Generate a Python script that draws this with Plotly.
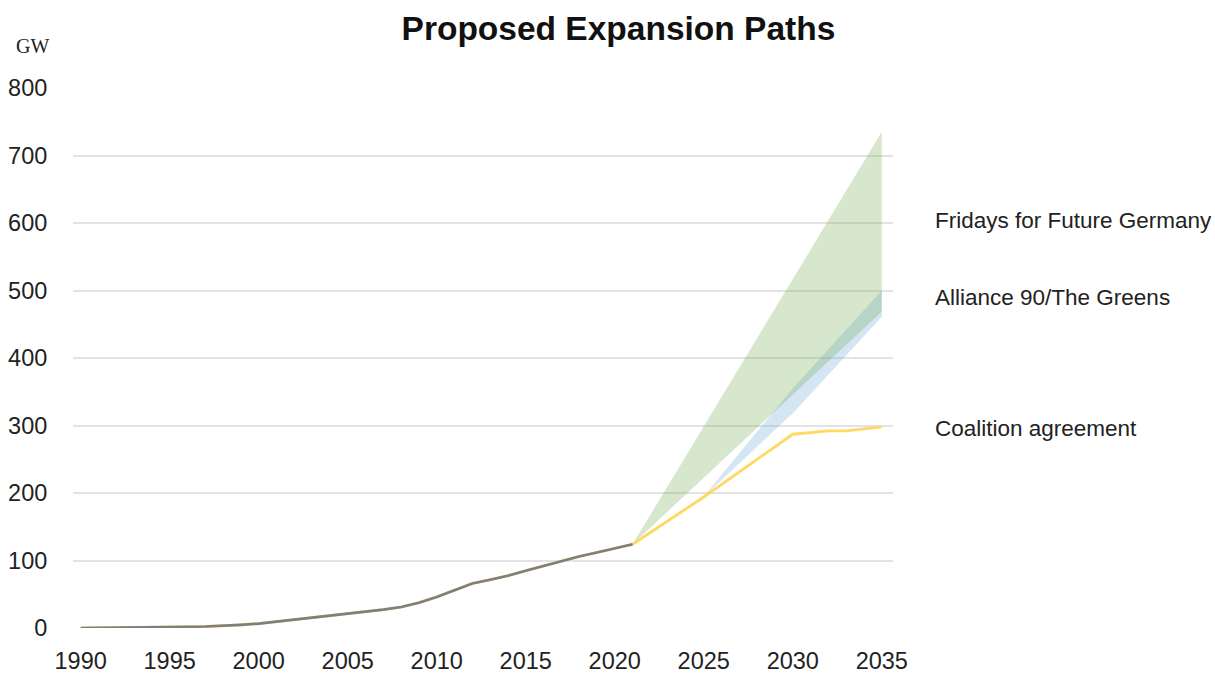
import plotly.graph_objects as go

# Installed wind + solar capacity in Germany (GW), historical
hist_years = list(range(1990, 2022))
hist_gw = [0.1, 0.2, 0.3, 0.5, 0.7, 1.2, 1.7, 2.2, 3.0, 4.7,
           6.5, 9.3, 12.8, 15.6, 18.6, 21.3, 24.2, 27.2, 31.0, 37.5,
           46.0, 56.0, 66.0, 71.5, 77.5, 85.0, 92.0, 99.5, 106.0, 112.0,
           118.0, 124.0]

# Coalition agreement path
coal_years = [2021, 2025, 2027, 2030, 2032, 2033, 2035]
coal_gw = [124, 194, 231, 287, 292, 292, 298]

# Alliance 90/The Greens corridor
greens_years = [2025, 2030, 2035]
greens_low = [195, 318, 461]
greens_high = [195, 355, 500]

# Fridays for Future Germany corridor
fff_years = [2021, 2035]
fff_low = [124, 469]
fff_high = [124, 735]

x_ticks = list(range(1990, 2036, 5))
y_ticks = list(range(0, 801, 100))

series_labels = ["Fridays for Future Germany", "Alliance 90/The Greens", "Coalition agreement"]
label_y = [603, 489, 296]

FONT = "Liberation Sans, Arial, sans-serif"
GREEN_FILL = "rgba(106,168,79,0.28)"
BLUE_FILL = "rgba(111,168,220,0.30)"
YELLOW = "#ffd966"
GREY = "#7f7f7f"

fig = go.Figure()

# Greens corridor
fig.add_trace(go.Scatter(x=greens_years, y=greens_low, mode="lines",
                         line=dict(width=0, color=BLUE_FILL), hoverinfo="skip"))
fig.add_trace(go.Scatter(x=greens_years, y=greens_high, mode="lines",
                         line=dict(width=0, color=BLUE_FILL), fill="tonexty",
                         fillcolor=BLUE_FILL, hoverinfo="skip"))

# Fridays for Future corridor
fig.add_trace(go.Scatter(x=fff_years, y=fff_low, mode="lines",
                         line=dict(width=0, color=GREEN_FILL), hoverinfo="skip"))
fig.add_trace(go.Scatter(x=fff_years, y=fff_high, mode="lines",
                         line=dict(width=0, color=GREEN_FILL), fill="tonexty",
                         fillcolor=GREEN_FILL, hoverinfo="skip"))

# Coalition agreement (continues the historical series)
fig.add_trace(go.Scatter(x=hist_years + coal_years[1:], y=hist_gw + coal_gw[1:],
                         mode="lines", line=dict(width=2.9, color=YELLOW)))

# Historical capacity
fig.add_trace(go.Scatter(x=hist_years, y=hist_gw, mode="lines",
                         line=dict(width=2.6, color=GREY)))

annotations = [
    dict(text=t, x=1.0488, y=yv, xref="paper", yref="y", xanchor="left",
         yanchor="middle", showarrow=False,
         font=dict(family=FONT, size=22.5, color="#222222"))
    for t, yv in zip(series_labels, label_y)
]
annotations.append(dict(text="GW", x=-0.0488, y=1.078, xref="paper", yref="paper",
                        xanchor="center", yanchor="middle", showarrow=False,
                        font=dict(family="Liberation Serif, serif", size=20,
                                  color="#222222")))

fig.update_layout(
    width=1215, height=673,
    margin=dict(l=73, r=322, t=88, b=45),
    paper_bgcolor="white", plot_bgcolor="white",
    showlegend=False,
    title=dict(text="<b>Proposed Expansion Paths</b>", x=0.509, xanchor="center",
               y=1 - 28 / 673, yanchor="middle", yref="container",
               font=dict(family=FONT, size=33.5, color="#111111")),
    xaxis=dict(range=[1989.57, 2035.63], tickvals=x_ticks, showgrid=False,
               zeroline=False, showline=False, ticks="outside", ticklen=12,
               tickcolor="rgba(0,0,0,0)", automargin=False,
               tickfont=dict(family=FONT, size=23.5, color="#222222")),
    yaxis=dict(range=[0, 800], tickvals=y_ticks, showgrid=True,
               gridcolor="#e3e3e3", gridwidth=1.5, zeroline=False,
               showline=False, ticks="outside", ticklen=20,
               tickcolor="rgba(0,0,0,0)", automargin=False,
               tickfont=dict(family=FONT, size=23.5, color="#222222")),
    annotations=annotations,
)

fig.write_html("out.html")
